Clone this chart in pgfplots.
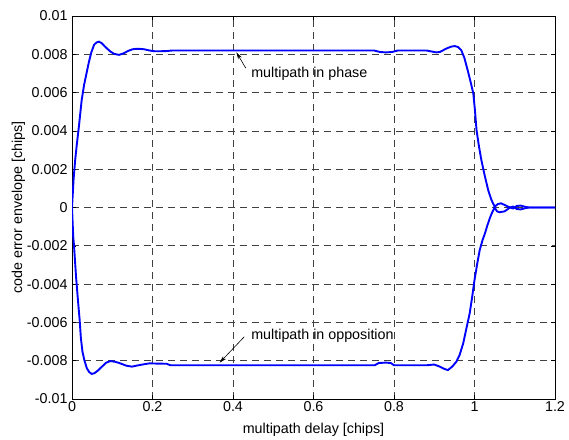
\documentclass[border=0pt]{standalone}
\usepackage{pgfplots}
\pgfplotsset{compat=1.18}
\usepackage{fontspec}
\setmainfont{Liberation Sans}
\usetikzlibrary{arrows.meta}
\begin{document}
\begin{tikzpicture}
\begin{axis}[
  at={(0,0)}, anchor=south west,
  scale only axis, width=483pt, height=383pt,
  xmin=0, xmax=1.2, ymin=-0.01, ymax=0.01,
  xtick={0,0.2,0.4,0.6,0.8,1,1.2},
  xticklabels={0,0.2,0.4,0.6,0.8,1,1.2},
  ytick={-0.01,-0.008,-0.006,-0.004,-0.002,0,0.002,0.004,0.006,0.008,0.01},
  yticklabels={-0.01,-0.008,-0.006,-0.004,-0.002,0,0.002,0.004,0.006,0.008,0.01},
  scaled y ticks=false,
  tick align=inside, tick pos=both,
  major tick length=4pt,
  tick style={black, line width=0.6pt},
  axis line style={black, line width=0.9pt},
  grid=major,
  major grid style={black!75, line width=0.65pt, dash pattern=on 7pt off 5pt},
  font=\fontsize{14.3}{16}\selectfont,
  ticklabel style={font=\fontsize{14.3}{16}\selectfont},
  xticklabel style={yshift=1pt},
  yticklabel style={xshift=-1pt},
  xlabel={multipath delay [chips]},
  ylabel={code error envelope [chips]},
  xlabel style={yshift=-5pt},
  ylabel style={yshift=-5pt},
]
\addplot[blue, line width=1.9pt] coordinates {
(0,0) (0.004,0.0015) (0.008,0.0025) (0.012,0.0033) (0.017,0.0042) (0.024,0.0056)
(0.030,0.0064) (0.036,0.0070) (0.042,0.0076) (0.048,0.0081) (0.055,0.0085)
(0.061,0.00862) (0.067,0.00866) (0.074,0.00858) (0.082,0.0084) (0.095,0.00815)
(0.105,0.00802) (0.117,0.00797) (0.128,0.00805) (0.140,0.00818) (0.150,0.00826)
(0.158,0.00828) (0.170,0.00828) (0.180,0.00826) (0.192,0.0082) (0.205,0.00816)
(0.22,0.00816) (0.235,0.00817) (0.25,0.0082) (0.40,0.0082) (0.60,0.0082)
(0.75,0.0082) (0.765,0.00812) (0.78,0.0081) (0.795,0.00812) (0.81,0.0082)
(0.88,0.0082) (0.895,0.00814) (0.905,0.0081) (0.914,0.00812) (0.93,0.0083)
(0.942,0.0084) (0.951,0.00843) (0.959,0.00838) (0.967,0.00822) (0.975,0.0078)
(0.984,0.00709) (0.991,0.0065) (0.997,0.00596) (1.001,0.0051) (1.005,0.00405)
(1.011,0.0032) (1.017,0.00248) (1.025,0.0017) (1.034,0.00091) (1.042,0.0004)
(1.05,0.00004) (1.058,0.00018) (1.066,0.00022) (1.076,0.00012) (1.088,0)
(1.096,-0.00005) (1.105,0.00008) (1.115,0.0001) (1.125,0.00004) (1.135,0)
(1.2,0)
};
\addplot[blue, line width=1.9pt] coordinates {
(0,0) (0.003,-0.0015) (0.005,-0.002) (0.010,-0.0036) (0.015,-0.0049)
(0.019,-0.00587) (0.022,-0.0068) (0.026,-0.00753) (0.031,-0.0080) (0.037,-0.0084)
(0.043,-0.0086) (0.049,-0.00869) (0.056,-0.00865) (0.064,-0.00852) (0.075,-0.0083)
(0.085,-0.0081) (0.096,-0.00802) (0.108,-0.00806) (0.12,-0.00814) (0.135,-0.00826)
(0.149,-0.00831) (0.16,-0.00826) (0.175,-0.0082) (0.192,-0.00814) (0.21,-0.00815)
(0.235,-0.00816) (0.245,-0.00824) (0.40,-0.00824) (0.60,-0.00824) (0.752,-0.00824)
(0.762,-0.00812) (0.78,-0.0081) (0.792,-0.00812) (0.80,-0.00824) (0.88,-0.00824)
(0.90,-0.0082) (0.914,-0.00831) (0.925,-0.00843) (0.934,-0.00849) (0.945,-0.0083)
(0.955,-0.00805) (0.963,-0.0077) (0.972,-0.00709) (0.980,-0.0063) (0.988,-0.00553)
(0.994,-0.0047) (1.0,-0.00379) (1.007,-0.0029) (1.013,-0.00222) (1.020,-0.0017)
(1.026,-0.00135) (1.032,-0.00093) (1.038,-0.00056) (1.044,-0.00025) (1.05,0)
(1.056,-0.0002) (1.062,-0.00025) (1.075,-0.0002) (1.088,0) (1.096,0.00005)
(1.105,-0.00008) (1.115,-0.0001) (1.125,-0.00004) (1.135,0) (1.2,0)
};
\draw[-{Stealth[length=7pt,width=4pt]}, line width=0.6pt] (axis cs:0.432,0.00727) -- (axis cs:0.4085,0.0081);
\node[anchor=west, inner sep=0pt, font=\fontsize{14.3}{16}\selectfont] at (axis cs:0.445,0.00700) {multipath in phase};
\draw[-{Stealth[length=7pt,width=4pt]}, line width=0.6pt] (axis cs:0.428,-0.00675) -- (axis cs:0.367,-0.0081);
\node[anchor=west, inner sep=0pt, font=\fontsize{14.3}{16}\selectfont] at (axis cs:0.445,-0.00671) {multipath in opposition};
\end{axis}
\pgfresetboundingbox
\path[use as bounding box] (-72pt,-40pt) rectangle (497pt,399pt);
\end{tikzpicture}
\end{document}
